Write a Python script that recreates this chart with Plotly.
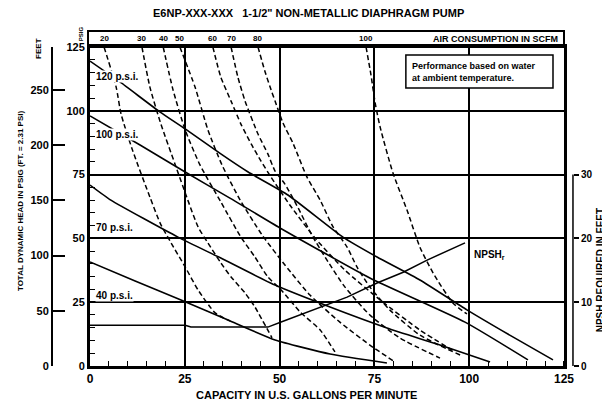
import plotly.graph_objects as go

# air inlet pressure curves: capacity (GPM) vs discharge head (PSI)
p120_gpm = [0, 7.9, 18.5, 25.1, 34.5, 41.7, 52.2, 66.7, 75.7, 87.0, 99.4, 111.5, 122.1]
p120_psi = [119.5, 111.3, 99.5, 92.9, 83.1, 76.0, 67.0, 50.5, 42.7, 33.7, 22.0, 11.4, 2.4]
p100_gpm = [0, 13.2, 25.1, 36.9, 50.1, 73.8, 98.9, 115.5]
p100_psi = [98.0, 86.6, 76.0, 65.8, 54.1, 34.5, 17.2, 2.4]
p70_gpm = [0, 5.5, 23.2, 34.5, 48.8, 63.3, 78.3, 92.3, 105.5]
p70_psi = [70.9, 65.0, 50.5, 42.3, 31.7, 23.1, 14.9, 8.2, 1.6]
p40_gpm = [0, 11.9, 24.0, 36.4, 48.8, 63.3, 78.3]
p40_psi = [40.8, 33.3, 25.9, 18.0, 10.2, 4.7, 1.2]

pressure_labels = ["120 p.s.i.", "100 p.s.i.", "70 p.s.i.", "40 p.s.i."]
label_psi = [113.6, 90.9, 54.1, 27.8]

# air consumption curves (SCFM)
scfm_names = ["20", "30", "40", "50", "60", "70", "80", "100"]
scfm_gpm = [
    [3.7, 6.9, 8.2, 11.3, 15.8, 18.5, 21.4, 25.1, 28.5, 33.0, 36.9],
    [13.7, 15.8, 18.7, 22.4, 25.8, 28.5, 31.1, 34.5, 37.2, 40.9, 43.5, 48.0],
    [19.3, 21.9, 25.1, 29.0, 34.5, 39.8, 43.5, 46.9, 50.4, 55.4, 60.7, 64.6],
    [23.7, 27.7, 31.1, 34.8, 39.6, 45.4, 51.4, 58.0, 65.9, 73.8, 80.4],
    [32.4, 34.5, 37.2, 39.8, 42.5, 45.1, 47.7, 52.7, 59.3, 67.2, 76.5, 87.0, 96.3],
    [37.2, 39.0, 40.9, 44.3, 46.9, 48.8, 51.4, 54.9, 58.5, 62.8, 67.2, 73.8, 81.7, 92.3],
    [44.3, 46.1, 47.5, 48.8, 50.9, 53.5, 57.2, 60.7, 64.1, 67.8, 70.4, 73.8, 79.1, 87.0, 97.6],
    [72.8, 74.1, 75.2, 76.5, 79.9, 83.6, 87.0, 90.5, 95.7, 99.4],
]
scfm_psi = [
    [125, 109.3, 98.7, 84.2, 66.2, 56.0, 48.2, 38.8, 29.8, 20.8, 17.6],
    [125, 109.3, 94.8, 79.2, 65.0, 54.5, 48.2, 40.4, 34.9, 28.6, 23.1, 11.0],
    [125, 108.2, 92.5, 78.8, 64.3, 50.5, 42.7, 34.9, 29.8, 21.2, 14.1, 5.5],
    [125, 109.3, 92.5, 78.8, 65.0, 51.3, 39.6, 27.8, 17.2, 8.2, 1.6],
    [125, 113.2, 103.8, 94.8, 87.0, 80.3, 74.1, 63.1, 50.2, 37.6, 25.9, 14.1, 5.5],
    [125, 113.2, 103.8, 90.9, 83.1, 76.4, 71.3, 61.9, 51.3, 40.8, 31.0, 20.0, 11.0, 3.1],
    [125, 115.6, 109.3, 103.8, 95.2, 87.4, 74.1, 65.0, 54.5, 46.6, 38.8, 31.0, 21.9, 12.1, 4.3],
    [125, 114.0, 103.1, 93.7, 75.6, 61.1, 46.6, 36.4, 24.7, 20.4],
]

# NPSH required (feet, right axis)
npsh_gpm = [0, 25.1, 26.6, 46.9, 50.4, 58.8, 67.8, 75.7, 82.6, 88.9, 98.9]
npsh_ft = [6.4, 6.4, 6.1, 6.1, 6.9, 8.8, 10.8, 13.0, 14.7, 16.6, 19.3]

x_ticks = [0, 25, 50, 75, 100, 125]
psi_ticks = [0, 25, 50, 75, 100, 125]
feet_ticks = [0, 50, 100, 150, 200, 250]
npsh_ticks = [0, 10, 20, 30]

FONT = "Liberation Sans"
BLK = "black"

fig = go.Figure()

for gx, gy in [(p120_gpm, p120_psi), (p100_gpm, p100_psi), (p70_gpm, p70_psi), (p40_gpm, p40_psi)]:
    fig.add_trace(go.Scatter(x=gx, y=gy, mode="lines", line=dict(color=BLK, width=1.6, shape="spline", smoothing=0.5),
                             showlegend=False, hoverinfo="skip"))

for gx, gy in zip(scfm_gpm, scfm_psi):
    fig.add_trace(go.Scatter(x=gx, y=gy, mode="lines",
                             line=dict(color=BLK, width=1.5, dash="5px,3px", shape="spline", smoothing=0.6),
                             showlegend=False, hoverinfo="skip"))

fig.add_trace(go.Scatter(x=npsh_gpm, y=npsh_ft, yaxis="y2", mode="lines", line=dict(color=BLK, width=1.5),
                         showlegend=False, hoverinfo="skip"))
# feet scale (left outer axis)
fig.add_trace(go.Scatter(x=[0], y=[0], yaxis="y3", mode="markers", marker=dict(opacity=0),
                         showlegend=False, hoverinfo="skip"))

bold = lambda v: [f"<b>{t}</b>" for t in v]

# page body has an 8px margin, so the figure is pulled up/left by that much
fig.update_layout(
    width=610, height=411,
    margin=dict(l=22, r=28, t=39, b=53, autoexpand=False),
    paper_bgcolor="white", plot_bgcolor="white",
    font=dict(family=FONT, color=BLK),
    xaxis=dict(range=[0, 125], domain=[0.10714, 0.95357], tickvals=x_ticks, ticktext=bold(x_ticks),
               tickfont=dict(size=12), ticks="", showgrid=True, gridcolor=BLK, gridwidth=1.5,
               showline=True, linecolor=BLK, linewidth=3, mirror=True, zeroline=False, automargin=False,
               minor=dict(tickmode="linear", dtick=5, ticks="inside", ticklen=5, tickwidth=1.2,
                          tickcolor=BLK, showgrid=False)),
    yaxis=dict(range=[0, 125], domain=[0, 1], tickvals=psi_ticks, ticktext=bold(psi_ticks),
               tickfont=dict(size=11), ticks="", showgrid=True, gridcolor=BLK, gridwidth=1.5,
               showline=True, linecolor=BLK, linewidth=3, mirror=True, zeroline=False, automargin=False,
               minor=dict(tickmode="linear", dtick=5, ticks="inside", ticklen=5, tickwidth=1.2,
                          tickcolor=BLK, showgrid=False)),
    yaxis2=dict(range=[0, 50], overlaying="y", side="right", anchor="free", position=0.9696,
                tickvals=npsh_ticks, ticktext=bold(npsh_ticks), tickfont=dict(size=10),
                ticks="outside", ticklen=5, tickwidth=1.5, tickcolor=BLK, automargin=False,
                showgrid=False, showline=False, zeroline=False),
    yaxis3=dict(range=[0, 288.75], overlaying="y", side="left", anchor="free", position=0.0393,
                tickvals=feet_ticks, ticktext=bold(feet_ticks), tickfont=dict(size=11),
                ticks="inside", ticklen=12, tickwidth=1.5, tickcolor=BLK, automargin=False,
                showgrid=False, showline=True, linecolor=BLK, linewidth=2, zeroline=False),
)

shapes = [
    # air consumption scale box
    dict(type="rect", xref="paper", yref="paper", x0=0.1036, x1=0.95357, y0=1.0, y1=1.0502,
         line=dict(color=BLK, width=2)),
    # NPSH axis line
    dict(type="line", xref="paper", yref="y2", x0=0.9696, x1=0.9696, y0=0, y1=30,
         line=dict(color=BLK, width=1.5)),
    # note box
    dict(type="rect", xref="x", yref="y", x0=83.3, x1=122.1, y0=108.9, y1=121.9,
         line=dict(color=BLK, width=1.5), fillcolor="white", layer="above"),
]
fig.update_layout(shapes=shapes)


def note(text, x, y, xref="paper", yref="paper", size=10, **kw):
    d = dict(text=text, x=x, y=y, xref=xref, yref=yref, showarrow=False, font=dict(size=size),
             xanchor="center", yanchor="middle")
    d.update(kw)
    return d


ann = [note("<b>E6NP-XXX-XXX   1-1/2\" NON-METALLIC DIAPHRAGM PUMP</b>", 0.498, 1.107, size=11)]
for name, gx in zip(scfm_names, scfm_gpm):
    ann.append(note(f"<b>{name}</b>", gx[0], 1.026, xref="x", size=8))
ann.append(note("<b>AIR CONSUMPTION IN SCFM</b>", 0.9464, 1.026, size=9, xanchor="right"))
for t, yv in zip(pressure_labels, label_psi):
    ann.append(note(f"<b>{t}</b>", 1.3, yv, xref="x", yref="y", xanchor="left", bgcolor="white", borderpad=0))
ann.append(note("<b>NPSH<sub>r</sub></b>", 100.7, 43.5, xref="x", yref="y", xanchor="left"))
ann.append(note("<b>Performance based on water<br>at ambient temperature.</b>", 84.3, 115.4,
                xref="x", yref="y", size=9, xanchor="left", align="left"))
ann.append(note("<b>CAPACITY IN U.S. GALLONS PER MINUTE</b>", 57.2, -0.09, xref="x", size=11))
ann.append(note("<b>TOTAL DYNAMIC HEAD IN PSIG (FT. = 2.31 PSI)</b>", -0.0179, 0.52, size=8, textangle=-90))
ann.append(note("<b>NPSH REQUIRED IN FEET</b>", 1.0179, 0.30, size=10, textangle=-90))
ann.append(note("<b>FEET</b>", 0.0161, 0.994, size=8, textangle=-90))
ann.append(note("<b>PSIG</b>", 0.0911, 1.04, size=6, textangle=-90))
fig.update_layout(annotations=ann)

fig.write_html("out.html")
